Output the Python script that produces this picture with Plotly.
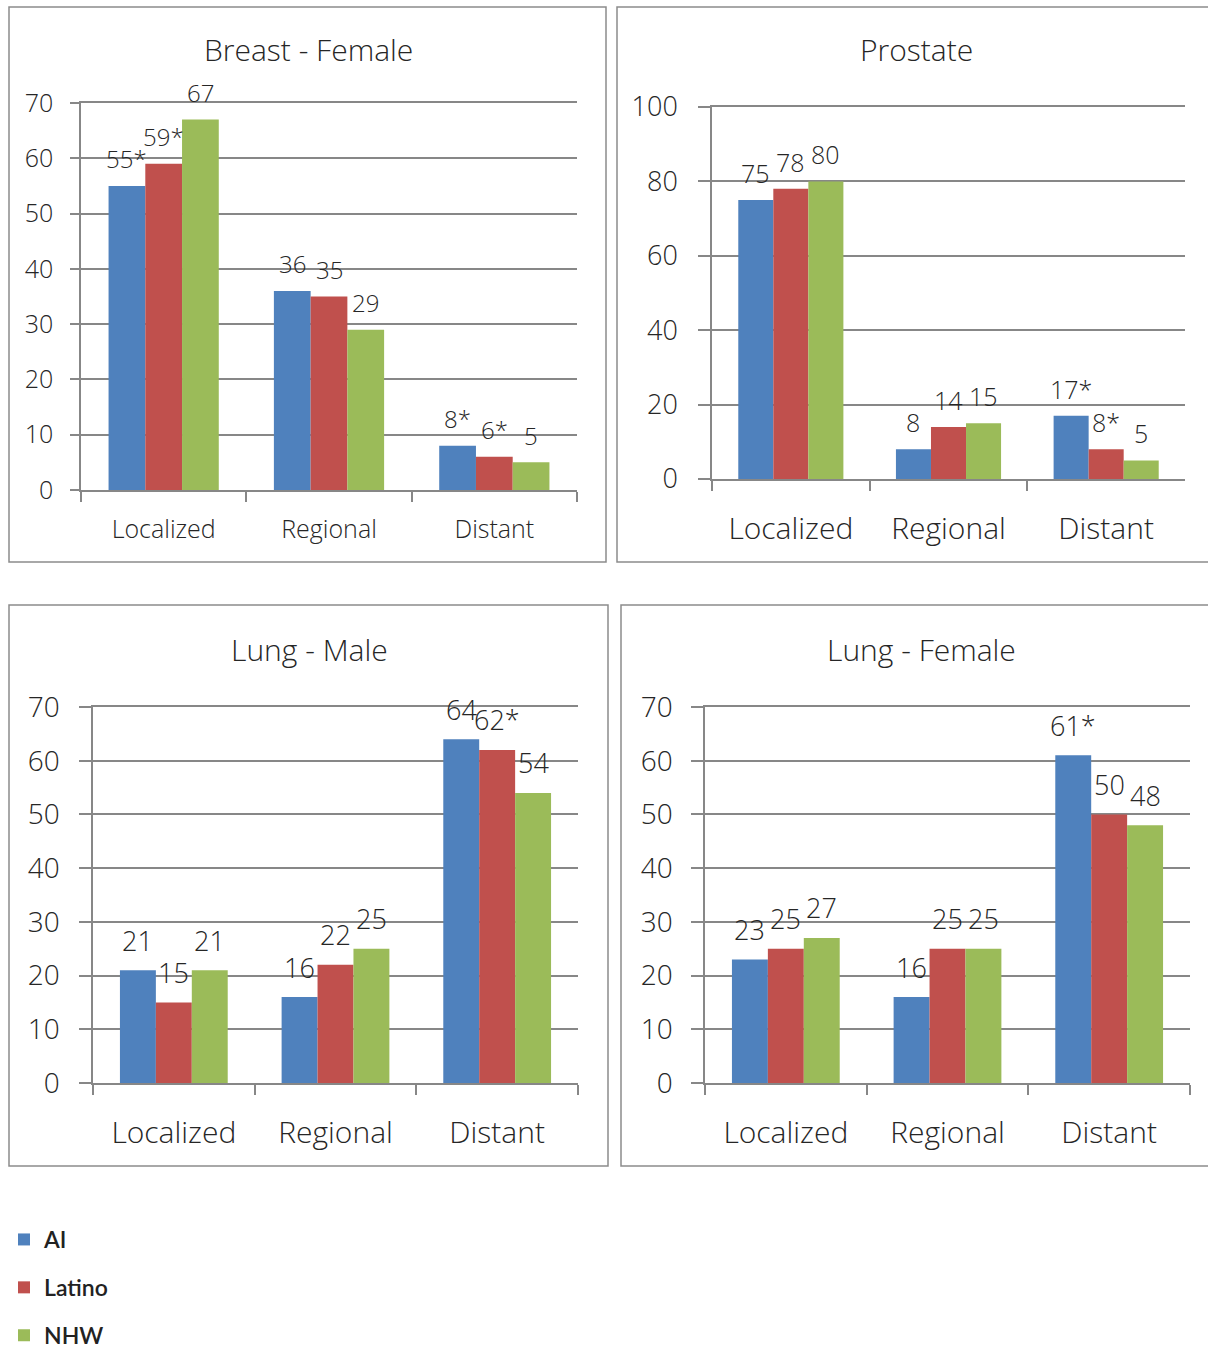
import plotly.graph_objects as go

# Stage-at-diagnosis percentages by group
stages = ["Localized", "Regional", "Distant"]
groups = ["AI", "Latino", "NHW"]
colors = ["#4F81BD", "#C0504D", "#9BBB59"]

breast_female = {"AI": [55, 36, 8], "Latino": [59, 35, 6], "NHW": [67, 29, 5]}
breast_female_txt = {"AI": ["55*", "36", "8*"], "Latino": ["59*", "35", "6*"], "NHW": ["67", "29", "5"]}

prostate = {"AI": [75, 8, 17], "Latino": [78, 14, 8], "NHW": [80, 15, 5]}
prostate_txt = {"AI": ["75", "8", "17*"], "Latino": ["78", "14", "8*"], "NHW": ["80", "15", "5"]}

lung_male = {"AI": [21, 16, 64], "Latino": [15, 22, 62], "NHW": [21, 25, 54]}
lung_male_txt = {"AI": ["21", "16", "64"], "Latino": ["15", "22", "62*"], "NHW": ["21", "25", "54"]}

lung_female = {"AI": [23, 16, 61], "Latino": [25, 25, 50], "NHW": [27, 25, 48]}
lung_female_txt = {"AI": ["23", "16", "61*"], "Latino": ["25", "25", "50"], "NHW": ["27", "25", "48"]}

W, H = 1208, 1350
FONT = "Open Sans"
TXT = "#262626"
GRID = "#878787"


def px_x(v):
    return v / W


def px_y(v):
    return 1 - v / H


# panel layout: plot area (left, right, top, bottom px), frame, y max, text sizes
panels = [
    dict(name="Breast - Female", vals=breast_female, txt=breast_female_txt,
         plot=(81, 577, 103, 490), box=(9, 606, 7, 562), ymax=70, dtick=10,
         tick=25, cat=25, lab=24, lab_shift=27, ticklen=9, tstand=12, xstand=16,
         title_x=308, title_y=50),
    dict(name="Prostate", vals=prostate, txt=prostate_txt,
         plot=(712, 1185, 107, 479), box=(617, 1212, 7, 562), ymax=100, dtick=20,
         tick=27, cat=30, lab=25, lab_shift=27, ticklen=12, tstand=15, xstand=22,
         title_x=916, title_y=50),
    dict(name="Lung - Male", vals=lung_male, txt=lung_male_txt,
         plot=(93, 578, 707, 1083), box=(9, 608, 605, 1166), ymax=70, dtick=10,
         tick=28, cat=30, lab=27, lab_shift=30, ticklen=12, tstand=14, xstand=22,
         title_x=309, title_y=650),
    dict(name="Lung - Female", vals=lung_female, txt=lung_female_txt,
         plot=(705, 1190, 707, 1083), box=(621, 1212, 605, 1166), ymax=70, dtick=10,
         tick=28, cat=30, lab=27, lab_shift=30, ticklen=12, tstand=13, xstand=22,
         title_x=921, title_y=650),
]

BARGAP = 1 / 3

fig = go.Figure()
annotations = []
shapes = []

for k, p in enumerate(panels):
    idx = "" if k == 0 else str(k + 1)
    xa, ya = "x" + idx, "y" + idx
    left, right, top, bottom = p["plot"]

    for g, c in zip(groups, colors):
        fig.add_trace(go.Bar(
            x=stages, y=p["vals"][g], name=g, marker=dict(color=c, line=dict(width=0)),
            xaxis=xa, yaxis=ya, showlegend=(k == 0), legendgroup=g,
            hoverinfo="skip",
        ))

    # value labels centred over each bar
    cat_px = (right - left) / len(stages)
    bar_px = cat_px * (1 - BARGAP) / len(groups)
    for gi, g in enumerate(groups):
        for si, s in enumerate(stages):
            annotations.append(dict(
                x=s, y=p["vals"][g][si], xref=xa, yref=ya,
                text=p["txt"][g][si], showarrow=False,
                xshift=(gi - 1) * bar_px, yshift=p["lab_shift"], yanchor="middle",
                font=dict(family=FONT, size=p["lab"], color=TXT, weight=300),
            ))

    fig.layout["xaxis" + idx] = dict(
        domain=[px_x(left), px_x(right)], anchor=ya, type="category",
        showline=True, linecolor=GRID, linewidth=1.5, mirror=True,
        ticks="outside", tickson="boundaries", ticklen=10, tickcolor=GRID, tickwidth=1.5,
        ticklabelstandoff=p["xstand"],
        tickfont=dict(family=FONT, size=p["cat"], color=TXT, weight=300),
        showgrid=False, zeroline=False, fixedrange=True,
    )
    fig.layout["yaxis" + idx] = dict(
        domain=[px_y(bottom), px_y(top)], anchor=xa, range=[0, p["ymax"]],
        dtick=p["dtick"], tick0=0,
        showline=True, linecolor=GRID, linewidth=1.5,
        ticks="outside", ticklen=p["ticklen"], tickcolor=GRID, tickwidth=1.5,
        ticklabelstandoff=p["tstand"],
        tickfont=dict(family=FONT, size=p["tick"], color=TXT, weight=300),
        showgrid=True, gridcolor=GRID, gridwidth=1.5, zeroline=False,
        fixedrange=True,
    )

    # panel title
    annotations.append(dict(
        x=px_x(p["title_x"]), y=px_y(p["title_y"]),
        xref="paper", yref="paper", text=p["name"], showarrow=False,
        yanchor="middle", xanchor="center",
        font=dict(family=FONT, size=30, color=TXT, weight=300),
    ))

    # panel frame
    bx0, bx1, by0, by1 = p["box"]
    shapes.append(dict(
        type="rect", xref="paper", yref="paper",
        x0=px_x(bx0), x1=px_x(bx1), y0=px_y(by1), y1=px_y(by0),
        line=dict(color="#8C8C8C", width=1.5), fillcolor="rgba(0,0,0,0)", layer="below",
    ))

fig.update_layout(
    width=W, height=H, margin=dict(l=0, r=0, t=0, b=0, autoexpand=False),
    paper_bgcolor="white", plot_bgcolor="white",
    barmode="group", bargap=BARGAP, bargroupgap=0,
    annotations=annotations, shapes=shapes,
    showlegend=True,
    legend=dict(
        x=px_x(4), y=px_y(1218), xanchor="left", yanchor="top",
        orientation="v", tracegroupgap=15, itemwidth=30,
        font=dict(family="Lato", size=23, color="#222222", weight=600),
        bgcolor="rgba(0,0,0,0)",
    ),
)

fig.write_html("out.html")
